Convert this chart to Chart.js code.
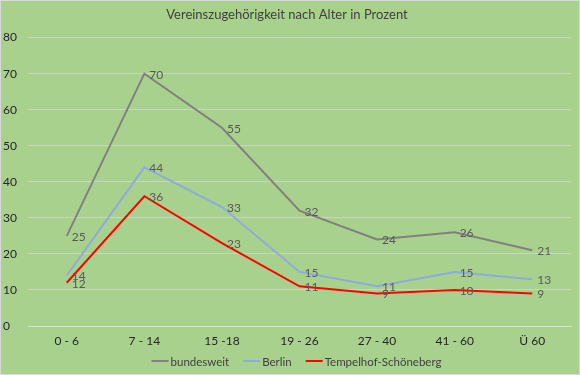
<!DOCTYPE html>
<html>
<head>
<meta charset="utf-8">
<script src="https://cdn.jsdelivr.net/npm/chart.js@4"></script>
<style>
    html, body { margin: 0; padding: 0; background: #a9d18e; }
    #wrap { width: 580px; height: 375px; }
</style>
</head>
<body>
<div id="wrap"><canvas id="vereinChart" width="580" height="375"></canvas></div>
<script>
// Chart data
const ageGroups = ['0 - 6', '7 - 14', '15 -18', '19 - 26', '27 - 40', '41 - 60', 'Ü 60'];
const bundesweit = [25, 70, 55, 32, 24, 26, 21];
const berlin = [14, 44, 33, 15, 11, 15, 13];
const tempelhof = [12, 36, 23, 11, 9, 10, 9];

const fontFamily = 'Lato, "Noto Sans", sans-serif';

// Green background and thin frame
const backgroundPlugin = {
    id: 'bg',
    beforeDraw: function(chart) {
        const ctx = chart.ctx;
        ctx.save();
        ctx.fillStyle = '#a9d18e';
        ctx.fillRect(0, 0, chart.width, chart.height);
        ctx.strokeStyle = '#d9d9d9';
        ctx.lineWidth = 1;
        ctx.strokeRect(0.5, 0.5, chart.width - 1, chart.height - 1);
        ctx.restore();
    }
};

// Value labels to the right of each point
const valueLabels = {
    id: 'valueLabels',
    afterDatasetsDraw: function(chart) {
        const ctx = chart.ctx;
        ctx.save();
        ctx.font = '12px ' + fontFamily;
        ctx.fillStyle = '#595959';
        ctx.textAlign = 'left';
        ctx.textBaseline = 'middle';
        chart.data.datasets.forEach(function(ds, i) {
            chart.getDatasetMeta(i).data.forEach(function(pt, j) {
                ctx.fillText(String(ds.data[j]), pt.x + 5, pt.y + 1);
            });
        });
        ctx.restore();
    }
};

// Excel-like legend: short line, label right next to it
const lineLegend = {
    id: 'lineLegend',
    afterDraw: function(chart) {
        const ctx = chart.ctx;
        const lineLen = 17, textGap = 2, itemGap = 14;
        const y = 361;
        ctx.save();
        ctx.font = '11.5px ' + fontFamily;
        ctx.textBaseline = 'middle';
        ctx.textAlign = 'left';
        const items = chart.data.datasets.map(function(ds) {
            return { label: ds.label, color: ds.borderColor, w: ctx.measureText(ds.label).width };
        });
        let total = 0;
        items.forEach(function(it, i) {
            total += lineLen + textGap + it.w + (i < items.length - 1 ? itemGap : 0);
        });
        const area = chart.chartArea;
        let x = (area.left + area.right) / 2 - total / 2 - 3;
        items.forEach(function(it) {
            ctx.strokeStyle = it.color;
            ctx.lineWidth = 2;
            ctx.beginPath();
            ctx.moveTo(x, y);
            ctx.lineTo(x + lineLen, y);
            ctx.stroke();
            ctx.fillStyle = '#404040';
            ctx.fillText(it.label, x + lineLen + textGap, y + 1);
            x += lineLen + textGap + it.w + itemGap;
        });
        ctx.restore();
    }
};

new Chart(document.getElementById('vereinChart'), {
    type: 'line',
    data: {
        labels: ageGroups,
        datasets: [
            { label: 'bundesweit', data: bundesweit, borderColor: '#808080', backgroundColor: '#808080' },
            { label: 'Berlin', data: berlin, borderColor: '#8faadc', backgroundColor: '#8faadc' },
            { label: 'Tempelhof-Schöneberg', data: tempelhof, borderColor: '#ff0000', backgroundColor: '#ff0000' }
        ]
    },
    options: {
        responsive: false,
        animation: false,
        elements: {
            line: { borderWidth: 2, tension: 0 },
            point: { radius: 0 }
        },
        layout: { padding: { left: 3, right: 9, top: 0, bottom: 29 } },
        plugins: {
            title: {
                display: true,
                text: 'Vereinszugehörigkeit nach Alter in Prozent',
                color: '#404040',
                font: { family: fontFamily, size: 13, weight: 'normal' },
                padding: { top: 7, bottom: 15 }
            },
            legend: { display: false },
            tooltip: { enabled: false }
        },
        scales: {
            x: {
                offset: true,
                afterFit: function(scale) { scale.height = 20; },
                grid: { display: false, drawTicks: false },
                border: { display: true, color: '#d9e6cf' },
                ticks: {
                    color: '#262626',
                    padding: 8,
                    font: { family: fontFamily, size: 12 }
                }
            },
            y: {
                min: 0,
                max: 80,
                afterFit: function(scale) { scale.width = 25; },
                grid: { color: '#c6d9b8', drawTicks: false },
                border: { display: false },
                ticks: {
                    stepSize: 10,
                    color: '#262626',
                    crossAlign: 'far',
                    padding: 0,
                    font: { family: fontFamily, size: 12 }
                }
            }
        }
    },
    plugins: [backgroundPlugin, valueLabels, lineLegend]
});
</script>
</body>
</html>
